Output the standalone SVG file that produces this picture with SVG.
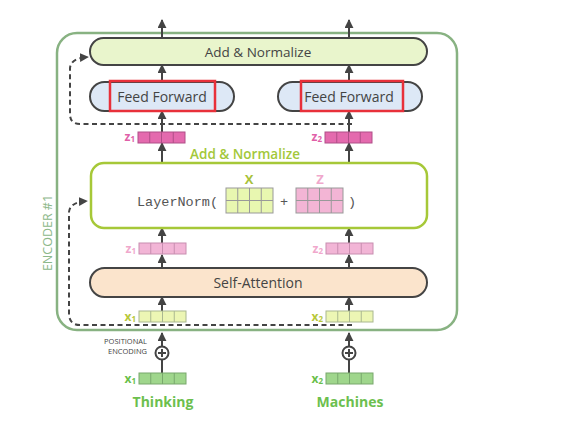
<svg xmlns="http://www.w3.org/2000/svg" width="563" height="444" viewBox="0 0 563 444">
<style>
.box{stroke:#444;stroke-width:2}
.lbl{font-family:"Open Sans","Liberation Sans",sans-serif;fill:#444;text-anchor:middle}
.arr{stroke:#444;stroke-width:2;fill:none;marker-end:url(#ah)}
.dash{stroke:#444;stroke-width:2;fill:none;stroke-dasharray:5 3.5;marker-end:url(#ah)}
.sub{font-family:"Open Sans","Liberation Sans",sans-serif;font-weight:700;text-anchor:end;font-size:12px}
.red{fill:none;stroke:#e8303a;stroke-width:2.5}
</style>
<defs>
<marker id="ah" viewBox="0 0 10 10" refX="9" refY="5" markerUnits="userSpaceOnUse" markerWidth="9" markerHeight="9" orient="auto">
<path d="M0,0 L10,5 L0,10 z" fill="#444"/>
</marker>
<g id="cells4"><path d="M11.75,0 V11 M23.5,0 V11 M35.25,0 V11" fill="none"/></g>
<g id="vzd"><rect width="47" height="11" fill="#e46aae" stroke="#b04f88"/><use href="#cells4" stroke="#b04f88"/></g>
<g id="vzl"><rect width="47" height="11" fill="#f2b5d6" stroke="#c88eb0"/><use href="#cells4" stroke="#c88eb0"/></g>
<g id="vxl"><rect width="47" height="11" fill="#ecf6b4" stroke="#aab890"/><use href="#cells4" stroke="#aab890"/></g>
<g id="vxd"><rect width="47" height="11" fill="#9fd68c" stroke="#78a86c"/><use href="#cells4" stroke="#78a86c"/></g>
<g id="mat"><path d="M11.75,0 V25 M23.5,0 V25 M35.25,0 V25 M0,12.5 H47" fill="none"/></g>
</defs>

<g id="encoder">
<rect x="57" y="33" width="400" height="297" rx="20" fill="none" stroke="#88b282" stroke-width="2.5"/>
<text transform="translate(52,233) rotate(-90)" font-family="'Open Sans','Liberation Sans',sans-serif" font-size="12.5" fill="#8db88a" text-anchor="middle">ENCODER #1</text>
</g>

<g id="connectors">
<path class="arr" d="M162,38 V20"/>
<path class="arr" d="M349,38 V20"/>
<path class="arr" d="M162,82 V65"/>
<path class="arr" d="M349,82 V65"/>
<path class="arr" d="M162,132 V111"/>
<path class="arr" d="M349,132 V111"/>
<path class="arr" d="M162,163 V143"/>
<path class="arr" d="M349,163 V143"/>
<path class="arr" d="M162,243 V228"/>
<path class="arr" d="M349,243 V228"/>
<path class="arr" d="M162,268 V255"/>
<path class="arr" d="M349,268 V255"/>
<path class="arr" d="M162,311 V297"/>
<path class="arr" d="M349,311 V297"/>
<path class="arr" d="M162,346 V333"/>
<path class="arr" d="M349,346 V333"/>
<path d="M162,373 V359.5 M349,373 V359.5" stroke="#444" stroke-width="2"/>
<path class="dash" d="M352,124 H80 Q70,124 70,114 V68 Q71,58 88,57"/>
<path class="dash" d="M352,325 H80 Q70,325 69,315 V212 Q70,202 87,201"/>
</g>

<g id="add-normalize-top">
<rect class="box" x="90" y="38" width="337" height="27" rx="13.5" fill="#e9f5cc"/>
<text class="lbl" x="258" y="56.5" font-size="13.5">Add &amp; Normalize</text>
</g>

<g id="ff1">
<rect class="box" x="90" y="82" width="144" height="29" rx="14.5" fill="#dde8f6"/>
<text class="lbl" x="162" y="102" font-size="14">Feed Forward</text>
<rect class="red" x="110" y="81" width="105" height="30"/>
</g>
<g id="ff2">
<rect class="box" x="278" y="82" width="144" height="29" rx="14.5" fill="#dde8f6"/>
<text class="lbl" x="349" y="102" font-size="14">Feed Forward</text>
<rect class="red" x="301" y="81" width="102" height="30"/>
</g>

<g id="z-top">
<use href="#vzd" x="138" y="132"/>
<use href="#vzd" x="325" y="132"/>
<text class="sub" x="135" y="141" fill="#e060a8">z<tspan font-size="8" dy="1">1</tspan></text>
<text class="sub" x="322" y="141" fill="#e060a8">z<tspan font-size="8" dy="1">2</tspan></text>
</g>

<g id="layernorm">
<text x="245" y="159" font-family="'Open Sans','Liberation Sans',sans-serif" font-size="13.5" font-weight="600" fill="#a3c83a" text-anchor="middle">Add &amp; Normalize</text>
<rect x="91" y="163" width="336" height="65" rx="13" fill="#fff" stroke="#a6c838" stroke-width="2.5"/>
<text x="137" y="206" font-family="'Liberation Mono','DejaVu Sans Mono',monospace" font-size="13.5" fill="#555">LayerNorm(</text>
<text x="249" y="184" font-family="'Open Sans','Liberation Sans',sans-serif" font-size="13" font-weight="700" fill="#a8c23a" text-anchor="middle">X</text>
<rect x="226" y="188" width="47" height="25" fill="#e8f7b0" stroke="#999"/>
<use href="#mat" x="226" y="188" stroke="#999"/>
<text x="284" y="206" font-family="'Liberation Mono','DejaVu Sans Mono',monospace" font-size="13.5" fill="#555" text-anchor="middle">+</text>
<text x="320" y="184" font-family="'Open Sans','Liberation Sans',sans-serif" font-size="13" font-weight="700" fill="#f0a8cc" text-anchor="middle">Z</text>
<rect x="296" y="188" width="47" height="25" fill="#f3b5d5" stroke="#999"/>
<use href="#mat" x="296" y="188" stroke="#999"/>
<text x="348" y="206" font-family="'Liberation Mono','DejaVu Sans Mono',monospace" font-size="13.5" fill="#555">)</text>
</g>

<g id="z-low">
<use href="#vzl" x="139" y="243"/>
<use href="#vzl" x="326" y="243"/>
<text class="sub" x="136" y="253" fill="#f0a8cc">z<tspan font-size="8" dy="1">1</tspan></text>
<text class="sub" x="323" y="253" fill="#f0a8cc">z<tspan font-size="8" dy="1">2</tspan></text>
</g>

<g id="self-attention">
<rect class="box" x="90" y="268" width="337" height="29" rx="14.5" fill="#fbe4cc"/>
<text class="lbl" x="258" y="287.5" font-size="14">Self-Attention</text>
</g>

<g id="x-inner">
<use href="#vxl" x="139" y="311"/>
<use href="#vxl" x="326" y="311"/>
<text class="sub" x="136" y="321" fill="#b8c83a">x<tspan font-size="8" dy="1">1</tspan></text>
<text class="sub" x="323" y="321" fill="#b8c83a">x<tspan font-size="8" dy="1">2</tspan></text>
</g>

<g id="pos-enc">
<text x="147" y="344" font-family="'Open Sans','Liberation Sans',sans-serif" font-size="7.5" fill="#444" text-anchor="end">POSITIONAL</text>
<text x="147" y="354" font-family="'Open Sans','Liberation Sans',sans-serif" font-size="7.5" fill="#444" text-anchor="end">ENCODING</text>
<g stroke="#444" stroke-width="2" fill="#fff">
<circle cx="162" cy="353" r="6.5"/>
<circle cx="349" cy="353" r="6.5"/>
<path d="M158,353 H166 M162,349 V357 M345,353 H353 M349,349 V357"/>
</g>
</g>

<g id="x-input">
<use href="#vxd" x="139" y="373"/>
<use href="#vxd" x="326" y="373"/>
<text class="sub" x="136" y="383" fill="#6abf4b">x<tspan font-size="8" dy="1">1</tspan></text>
<text class="sub" x="323" y="383" fill="#6abf4b">x<tspan font-size="8" dy="1">2</tspan></text>
<text x="163" y="407" font-family="'Open Sans','Liberation Sans',sans-serif" font-size="14" font-weight="700" fill="#6cbf4e" text-anchor="middle">Thinking</text>
<text x="350" y="407" font-family="'Open Sans','Liberation Sans',sans-serif" font-size="14" font-weight="700" fill="#6cbf4e" text-anchor="middle">Machines</text>
</g>
</svg>
